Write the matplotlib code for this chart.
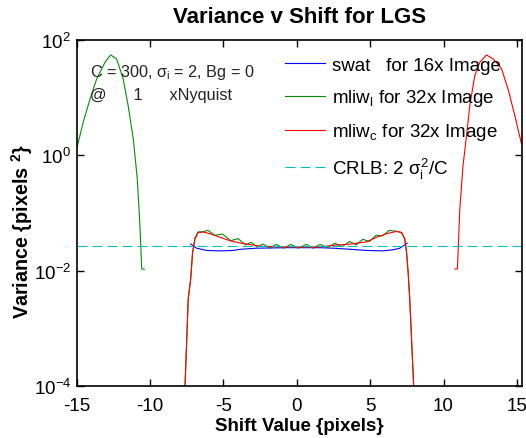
"""Variance v Shift for LGS, redrawn in matplotlib."""

import matplotlib
matplotlib.use('Agg')
import matplotlib.pyplot as plt
import numpy as np

plt.rcParams['font.family'] = 'Liberation Sans'
plt.rcParams['mathtext.fontset'] = 'custom'
plt.rcParams['mathtext.rm'] = 'Liberation Sans'
plt.rcParams['mathtext.it'] = 'Liberation Sans'
plt.rcParams['mathtext.bf'] = 'Liberation Sans:bold'
plt.rcParams['axes.unicode_minus'] = False

# swat, 16x image
swat_x = [-7.23, -6.83, -6.14, -5.24, -4.33, -3.88, -2.74, -0.69, 1.57,
          2.48, 3.62, 4.75, 5.88, 6.57, 7.02, 7.36, 7.52]
swat_y = [0.029, 0.0245, 0.0224, 0.022, 0.0224, 0.0234, 0.0245, 0.025,
          0.025, 0.0245, 0.0235, 0.0224, 0.022, 0.023, 0.0245, 0.028, 0.030]

# mliw_l, 32x image (left lobe and centre)
mliw_l_left_x = [-15.0, -14.55, -14.09, -13.64, -13.07, -12.68, -12.28,
                 -11.83, -11.49, -11.14, -10.87, -10.69, -10.57, -10.4]
mliw_l_left_y = [1.3, 3.8, 9.5, 21, 41, 55, 47, 21, 7.2, 1.9, 0.39, 0.06,
                 0.0107, 0.0105]
mliw_l_mid_x = [-7.66, -7.40, -7.23, -7.10, -6.94, -6.72, -6.40, -6.05,
                -5.6, -5.05, -4.5, -4.0, -3.5, -3.1, -2.7, -2.3, -1.85,
                -1.4, -0.9, -0.4, 0.1, 0.65, 1.1, 1.6, 2.1, 2.6, 3.1, 3.6,
                4.05, 4.5, 4.95, 5.4, 5.85, 6.3, 6.8, 7.14, 7.36, 7.48,
                7.59, 7.70, 8.02]
mliw_l_mid_y = [5e-5, 0.0032, 0.0072, 0.0209, 0.037, 0.047, 0.047, 0.05,
                0.041, 0.043, 0.033, 0.036, 0.028, 0.031, 0.0255, 0.029,
                0.0245, 0.0285, 0.0245, 0.0285, 0.0245, 0.0285, 0.0245,
                0.0285, 0.025, 0.030, 0.026, 0.032, 0.028, 0.035, 0.032,
                0.041, 0.040, 0.050, 0.048, 0.046, 0.0355, 0.0209, 0.0093,
                0.0032, 5e-5]

# mliw_c, 32x image (centre and right lobe)
mliw_c_mid_x = [-7.66, -7.40, -7.23, -7.10, -6.94, -6.72, -6.38, -5.92,
                -5.24, -4.56, -3.88, -3.19, -2.29, -0.69, 1.57, 2.48, 3.62,
                4.75, 5.44, 6.12, 6.80, 7.14, 7.36, 7.48, 7.59, 7.70, 8.02]
mliw_c_mid_y = [5e-5, 0.0032, 0.0072, 0.0209, 0.0355, 0.0457, 0.0468,
                0.0437, 0.038, 0.0331, 0.0302, 0.0282, 0.0263, 0.0257,
                0.0257, 0.0275, 0.0288, 0.0316, 0.038, 0.0437, 0.0479,
                0.0457, 0.0355, 0.0209, 0.0093, 0.0032, 5e-5]
mliw_c_right_x = [10.77, 10.95, 11.11, 11.33, 11.57, 11.79, 12.13, 12.47,
                  12.93, 13.38, 13.95, 14.40, 14.86, 15.31]
mliw_c_right_y = [0.0107, 0.0107, 0.117, 0.66, 2.2, 7.2, 24, 41, 55, 47,
                  32, 14, 4.9, 1.6]

C_PHOTONS = 300
SIGMA_I = 2
CRLB = 2 * SIGMA_I ** 2 / C_PHOTONS

X_TICKS = [-15, -10, -5, 0, 5, 10, 15]
Y_TICKS = [1e-4, 1e-2, 1e0, 1e2]


def join(*pieces):
    """Join (x, y) pieces with NaN gaps."""
    xs, ys = [], []
    for x, y in pieces:
        xs += list(x) + [np.nan]
        ys += list(y) + [np.nan]
    return xs[:-1], ys[:-1]


def main():
    fig = plt.figure(figsize=(5.26, 4.39), dpi=100)
    ax = fig.add_axes([0.1458, 0.1185, 0.8466, 0.7882])

    lw = 0.8
    ax.plot(swat_x, swat_y, color='#0000ff', lw=lw,
            label='swat   for 16x Image')
    gx, gy = join((mliw_l_left_x, mliw_l_left_y), (mliw_l_mid_x, mliw_l_mid_y))
    ax.plot(gx, gy, color='#0a8a0a', lw=lw,
            label=r'mliw$_\mathregular{l}$ for 32x Image')
    rx, ry = join((mliw_c_mid_x, mliw_c_mid_y), (mliw_c_right_x, mliw_c_right_y))
    ax.plot(rx, ry, color='#ff0000', lw=lw,
            label=r'mliw$_\mathregular{c}$ for 32x Image')
    ax.axhline(CRLB, color='#00bfbf', lw=lw, ls=(0, (9, 4.5)),
               label=r'CRLB: 2 $\sigma_\mathregular{i}^\mathregular{2}$/C')

    ax.set_yscale('log')
    ax.set_xlim(-15, 15.35)
    ax.set_ylim(1e-4, 1e2)
    ax.set_xticks(X_TICKS)
    ax.set_yticks(Y_TICKS)
    ax.yaxis.set_minor_locator(matplotlib.ticker.NullLocator())
    ax.tick_params(direction='in', top=True, right=True, length=5,
                   width=1, labelsize=13.5, color='black')
    ax.tick_params(axis='x', pad=8)
    ax.tick_params(axis='y', pad=4)
    for s in ax.spines.values():
        s.set_linewidth(1.2)

    ax.set_xlabel('Shift Value {pixels}', fontsize=13.5, fontweight='bold')
    ax.set_ylabel(r'Variance {pixels $^\mathbf{2}$}', fontsize=14.2,
                  fontweight='bold')
    ax.xaxis.set_label_coords(0.5, -0.113)
    ax.xaxis.label.set_va('center')
    ax.yaxis.set_label_coords(-0.123, 0.45)
    ax.yaxis.label.set_va('center')

    fig.text(0.569, 0.959, 'Variance v Shift for LGS', ha='center',
             va='center', fontsize=16, fontweight='bold')

    ax.text(0.03, 0.91, r'C = 300, $\sigma_\mathregular{i}$ = 2, Bg = 0',
            transform=ax.transAxes, fontsize=11.7, color='#222222',
            va='center', ha='left')
    ax.text(0.03, 0.841, '@      1      xNyquist', transform=ax.transAxes,
            fontsize=11.7, color='#222222', va='center', ha='left')

    ax.legend(loc='upper left', bbox_to_anchor=(0.468, 0.951), frameon=False,
              fontsize=13.5, handlelength=2.15, handletextpad=0.33,
              labelspacing=0.7, borderpad=0, borderaxespad=0)

    fig.savefig('out.png', dpi=100)
    plt.close(fig)


if __name__ == '__main__':
    main()
